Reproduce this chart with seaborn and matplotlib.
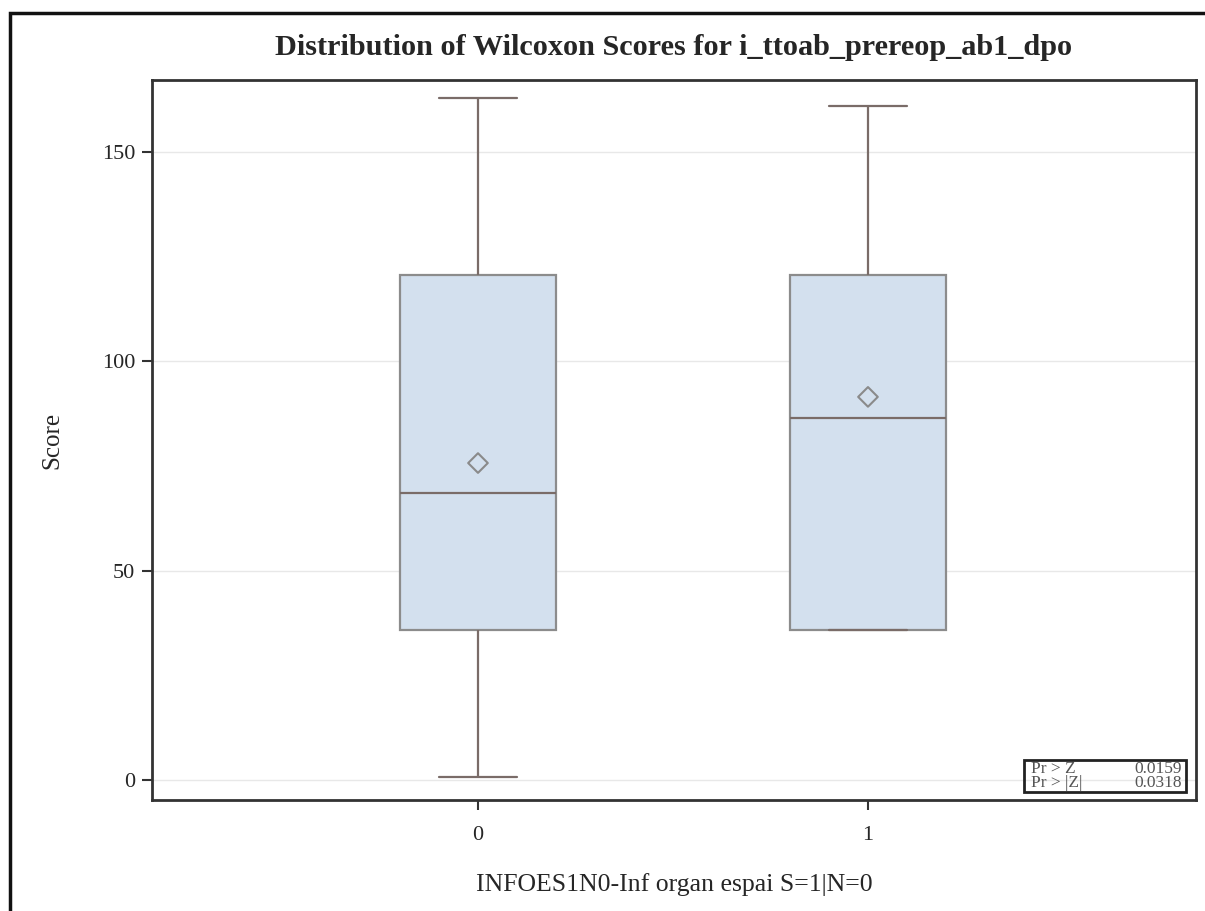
import numpy as np
import pandas as pd
import matplotlib
matplotlib.use('Agg')
import matplotlib.pyplot as plt
import seaborn as sns
from matplotlib.patches import Rectangle

# five-number summaries (min, Q1, median, Q3, max)
groups = ['0', '1']
stats_0 = [0.7, 35.8, 68.5, 120.6, 162.9]
stats_1 = [35.8, 35.8, 86.5, 120.6, 161.0]
means = [75.7, 91.5]
pvals = ['0.0159', '0.0318']
plabels = ['Pr > Z', 'Pr > |Z|']

df = pd.DataFrame({'grp': [groups[0]] * 5 + [groups[1]] * 5,
                   'Score': stats_0 + stats_1})
df_mean = pd.DataFrame({'grp': groups, 'Score': means})

sns.set_theme(style='white')
plt.rcParams['font.family'] = ['Liberation Serif', 'DejaVu Serif']

fig = plt.figure(figsize=(12.05, 9.11), dpi=100)
ax = fig.add_axes([0.1261, 0.1218, 0.8664, 0.7904])

line_c = '#7a6c68'
sns.boxplot(data=df, x='grp', y='Score', order=groups, whis=(0, 100), width=0.4,
            color='#d3e0ee', linecolor=line_c, linewidth=1.6, fliersize=0, ax=ax,
            boxprops=dict(edgecolor='#8c8c8c'), saturation=1)
sns.stripplot(data=df_mean, x='grp', y='Score', order=groups, jitter=False,
              marker='D', size=10, color='none', edgecolor='#8a8a8a', linewidth=1.5, ax=ax)
ax.collections[-1].set_facecolor('none')
ax.collections[-1].set_edgecolor('#8a8a8a')

ax.set_xlim(-0.836, 1.841)
ax.set_ylim(-4.8, 167.2)
ax.set_yticks([0, 50, 100, 150])
ax.yaxis.grid(True, color='#e8e8e8', linewidth=1)
ax.set_axisbelow(True)
for s in ax.spines.values():
    s.set_color('#333333')
    s.set_linewidth(2)
ax.tick_params(axis='both', which='both', direction='out', length=7, width=1.5,
               color='#333333', labelsize=16, left=True, bottom=True)
ax.tick_params(axis='x', pad=12)
ax.tick_params(axis='y', pad=5)
ax.set_xlabel('INFOES1N0-Inf organ espai S=1|N=0', fontsize=18.5, labelpad=20)
ax.set_ylabel('Score', fontsize=18, labelpad=28)
ax.set_title('Distribution of Wilcoxon Scores for i_ttoab_prereop_ab1_dpo',
             fontsize=21.8, fontweight='bold', pad=18)

# p-value inset
for i, (l, v) in enumerate(zip(plabels, pvals)):
    yy = 0.0435 - i * 0.0205
    ax.text(0.842, yy, l, transform=ax.transAxes, fontsize=12.5, color='#555555', va='center')
    ax.text(0.9865, yy, v, transform=ax.transAxes, fontsize=12.5, color='#555555', va='center', ha='right')
ax.add_patch(Rectangle((0.835, 0.0105), 0.1555, 0.0455, transform=ax.transAxes, fill=False,
                       edgecolor='#222222', linewidth=2, zorder=5))

# outer frame
fig.add_artist(Rectangle((10 / 1205, -0.1), 1.2, 1 - 13 / 911 + 0.1, transform=fig.transFigure,
                         fill=False, edgecolor='#111111', linewidth=2.5))

fig.savefig('out.png', dpi=100)
